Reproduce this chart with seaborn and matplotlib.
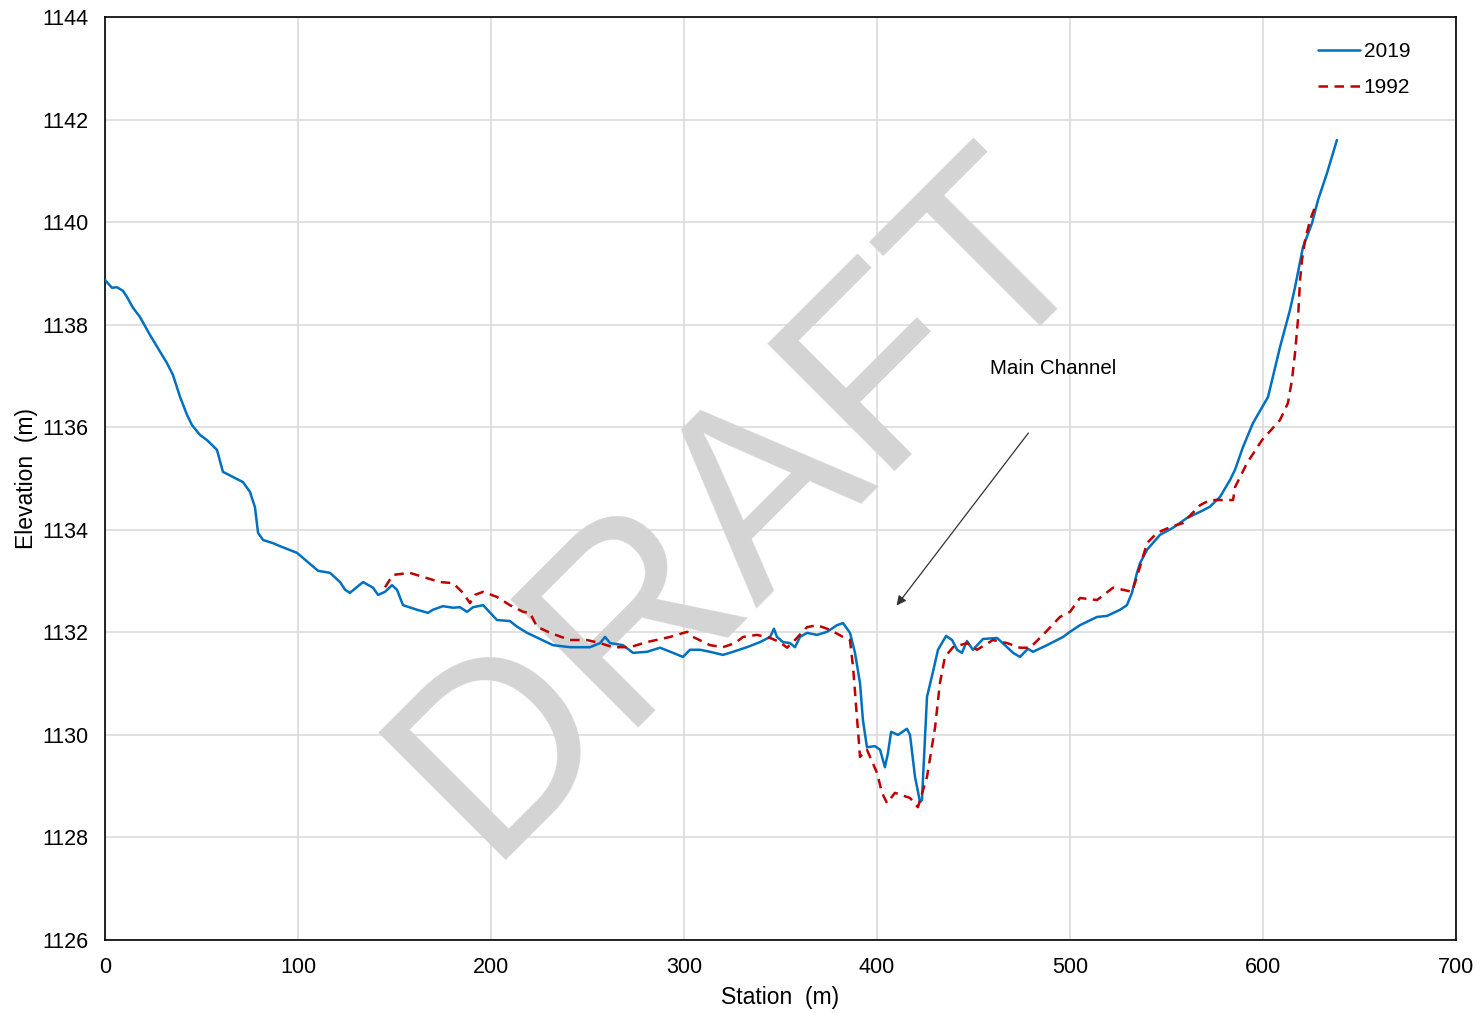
import numpy as np
import pandas as pd
import matplotlib
matplotlib.use("Agg")
import matplotlib.pyplot as plt
import seaborn as sns

# Cross-section survey, 2019
station_2019 = [0.0, 3.6, 6.2, 9.3, 11.4, 14.5, 18.1, 23.3, 29.5, 32.1, 35.2, 38.9, 42.5, 45.1,
                49.2, 52.8, 58.0, 61.1, 66.3, 71.5, 75.1, 77.7, 79.3, 81.9, 87.0, 90.7, 99.5,
                110.4, 116.6, 121.8, 124.4, 126.9, 133.7, 138.9, 141.5, 145.1, 148.7, 151.3,
                154.4, 161.7, 167.4, 169.9, 175.1, 180.3, 183.9, 187.6, 190.7, 195.9, 203.1,
                209.8, 213.5, 218.7, 225.4, 232.1, 240.9, 251.3, 256.5, 259.1, 261.7, 268.4,
                273.6, 280.8, 287.6, 294.3, 299.5, 303.1, 308.3, 313.5, 320.2, 325.4, 332.6,
                339.4, 344.6, 346.6, 348.2, 351.3, 354.9, 357.5, 360.1, 363.7, 368.9, 374.1,
                379.3, 382.4, 386.0, 388.6, 391.2, 392.7, 394.8, 399.0, 401.6, 404.1, 405.7,
                407.3, 410.9, 415.5, 417.1, 419.7, 422.3, 423.3, 425.9, 429.0, 431.6, 435.8,
                438.9, 441.5, 444.0, 446.6, 449.7, 454.9, 462.2, 466.3, 470.5, 474.1, 478.2,
                480.8, 488.1, 496.4, 500.0, 505.2, 514.0, 519.2, 525.9, 529.5, 532.1, 534.7,
                536.3, 539.9, 546.6, 553.4, 560.6, 567.4, 572.5, 577.7, 582.9, 585.5, 589.6,
                594.8, 602.6, 608.8, 614.0, 616.6, 620.7, 625.4, 628.5, 633.2, 638.3]
elev_2019 = [1138.87, 1138.72, 1138.73, 1138.66, 1138.54, 1138.33, 1138.15, 1137.80, 1137.41,
             1137.25, 1137.02, 1136.59, 1136.24, 1136.04, 1135.85, 1135.75, 1135.56, 1135.13,
             1135.03, 1134.93, 1134.74, 1134.44, 1133.94, 1133.80, 1133.74, 1133.68, 1133.55,
             1133.20, 1133.16, 1132.98, 1132.83, 1132.77, 1132.98, 1132.87, 1132.73, 1132.79,
             1132.92, 1132.83, 1132.53, 1132.44, 1132.38, 1132.44, 1132.51, 1132.48, 1132.49,
             1132.40, 1132.49, 1132.53, 1132.24, 1132.22, 1132.11, 1131.99, 1131.87, 1131.75,
             1131.71, 1131.71, 1131.79, 1131.91, 1131.79, 1131.75, 1131.60, 1131.62, 1131.70,
             1131.60, 1131.52, 1131.66, 1131.66, 1131.62, 1131.56, 1131.62, 1131.71, 1131.81,
             1131.91, 1132.07, 1131.91, 1131.81, 1131.79, 1131.71, 1131.91, 1131.99, 1131.95,
             1132.01, 1132.14, 1132.18, 1131.99, 1131.60, 1131.01, 1130.29, 1129.76, 1129.78,
             1129.71, 1129.37, 1129.65, 1130.06, 1130.00, 1130.12, 1130.00, 1129.18, 1128.69,
             1128.73, 1130.74, 1131.23, 1131.66, 1131.93, 1131.85, 1131.66, 1131.60, 1131.83,
             1131.66, 1131.87, 1131.89, 1131.75, 1131.60, 1131.52, 1131.68, 1131.62, 1131.75,
             1131.91, 1132.01, 1132.14, 1132.30, 1132.32, 1132.44, 1132.53, 1132.77, 1133.16,
             1133.35, 1133.61, 1133.90, 1134.04, 1134.23, 1134.35, 1134.45, 1134.64, 1134.97,
             1135.17, 1135.61, 1136.08, 1136.59, 1137.56, 1138.29, 1138.73, 1139.51, 1139.98,
             1140.43, 1140.96, 1141.60]

# Cross-section survey, 1992
station_1992 = [145.1, 149.2, 158.0, 164.8, 173.6, 180.3, 185.5, 189.1, 191.7, 195.9, 203.1,
                209.8, 216.6, 220.2, 223.8, 230.6, 240.9, 249.7, 256.5, 263.2, 272.0, 280.8,
                292.7, 301.6, 304.7, 313.5, 320.2, 326.4, 330.6, 337.8, 344.6, 349.7, 353.4,
                357.5, 363.7, 368.9, 375.6, 382.4, 386.0, 387.6, 389.6, 391.2, 394.8, 400.0,
                402.6, 405.2, 409.3, 417.1, 421.2, 425.9, 430.1, 432.6, 435.2, 439.4, 446.6,
                451.8, 460.1, 467.4, 474.1, 479.3, 486.0, 494.8, 500.0, 505.2, 514.0, 522.3,
                527.5, 532.1, 534.7, 539.9, 545.1, 551.8, 558.5, 567.4, 572.5, 584.5, 585.5,
                591.7, 599.5, 608.8, 612.9, 615.0, 616.6, 618.1, 619.2, 620.2, 621.8, 624.4,
                626.9]
elev_1992 = [1132.88, 1133.12, 1133.16, 1133.08, 1132.98, 1132.96, 1132.77, 1132.57, 1132.73,
             1132.79, 1132.69, 1132.53, 1132.40, 1132.38, 1132.11, 1131.99, 1131.85, 1131.85,
             1131.79, 1131.71, 1131.71, 1131.81, 1131.91, 1132.01, 1131.91, 1131.75, 1131.71,
             1131.79, 1131.91, 1131.95, 1131.89, 1131.81, 1131.70, 1131.85, 1132.10, 1132.14,
             1132.05, 1131.91, 1131.85, 1131.32, 1130.35, 1129.57, 1129.71, 1129.26, 1128.87,
             1128.67, 1128.87, 1128.77, 1128.59, 1129.18, 1130.15, 1131.01, 1131.52, 1131.71,
             1131.79, 1131.66, 1131.85, 1131.79, 1131.70, 1131.70, 1131.95, 1132.30, 1132.40,
             1132.67, 1132.63, 1132.87, 1132.83, 1132.79, 1133.08, 1133.74, 1133.94, 1134.05,
             1134.13, 1134.48, 1134.58, 1134.58, 1134.83, 1135.30, 1135.75, 1136.14, 1136.47,
             1136.92, 1137.45, 1138.09, 1138.87, 1139.26, 1139.65, 1140.04, 1140.29]

x_ticks = [0, 100, 200, 300, 400, 500, 600, 700]
y_ticks = [1126, 1128, 1130, 1132, 1134, 1136, 1138, 1140, 1142, 1144]

sns.set_theme(style="white")
plt.rcParams["font.family"] = ["Liberation Sans", "DejaVu Sans"]

fig = plt.figure(figsize=(14.84, 10.13), dpi=100)
ax = fig.add_axes([105 / 1484, 1 - 940 / 1013, 1351 / 1484, 923 / 1013])

df19 = pd.DataFrame({"Station": station_2019, "Elevation": elev_2019})
df92 = pd.DataFrame({"Station": station_1992, "Elevation": elev_1992})

sns.lineplot(data=df19, x="Station", y="Elevation", ax=ax, color="#0070C0", lw=1.8,
             sort=False, label="2019", zorder=3)
sns.lineplot(data=df92, x="Station", y="Elevation", ax=ax, color="#C00000", lw=1.8,
             sort=False, label="1992", zorder=3, linestyle=(0, (3.8, 2.6)))

ax.set_xlim(0, 700)
ax.set_ylim(1126, 1144)
ax.set_xticks(x_ticks)
ax.set_yticks(y_ticks)
ax.tick_params(axis="both", labelsize=15.5, length=0, colors="#000000")
ax.tick_params(axis="x", pad=12)
ax.tick_params(axis="y", pad=12)
ax.grid(True, color="#d9d9d9", lw=1.1, zorder=0)
ax.set_axisbelow(True)
for s in ax.spines.values():
    s.set_color("black")
    s.set_linewidth(1.2)

ax.set_xlabel("Station  (m)", fontsize=16.5, labelpad=6, color="black")
ax.set_ylabel("Elevation  (m)", fontsize=16.5, labelpad=3, color="black")

# watermark
ax.text(331, 1134.5, "DRAFT", rotation=45, ha="center", va="center", fontsize=188,
        color="#d4d4d4", zorder=1, family=["Liberation Sans", "DejaVu Sans"])

# annotation for the channel
ax.annotate("", xy=(409.3, 1132.48), xytext=(479.3, 1135.93),
            arrowprops=dict(arrowstyle="-|>", color="#333333", lw=0.9, mutation_scale=14),
            zorder=4)
ax.text(491.2, 1137.14, "Main Channel", fontsize=14.8, ha="center", va="center", zorder=4,
        color="black")

leg = ax.legend(loc="upper right", frameon=False, fontsize=15, handlelength=2.0,
                handletextpad=0.2, labelspacing=0.8, bbox_to_anchor=(0.98, 0.993))
for t in leg.get_texts():
    t.set_color("black")

fig.savefig("out.png", dpi=100)
